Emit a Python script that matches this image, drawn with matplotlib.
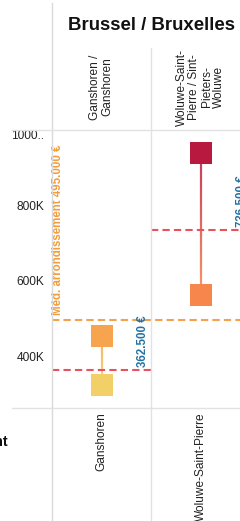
import numpy as np
import matplotlib
matplotlib.use('Agg')
import matplotlib.pyplot as plt
from matplotlib.lines import Line2D
from matplotlib.collections import LineCollection
from matplotlib.colors import to_rgba

plt.rcParams['font.family'] = ['Liberation Sans', 'DejaVu Sans']

# data
region = 'Brussel / Bruxelles'
communes = ['Ganshoren', 'Woluwe-Saint-Pierre']
commune_headers = ['Ganshoren /\nGanshoren', 'Woluwe-Saint-\nPierre / Sint-\nPieters-\nWoluwe']
price_high = [453000, 939000]
price_low = [324000, 563000]
median_commune = [362500, 736500]
median_region = 495000
color_high = ['#F6A54E', '#B8193F']
color_low = ['#F3CF67', '#F6864B']
ytick_vals = [400000, 600000, 800000, 1000000]
ytick_labels = ['400K', '600K', '800K', '1000..']

W, H = 240, 521
GRID = '#E2E2E2'


def fx(px):
    return px / W


def fy(py):
    return 1 - py / H


fig = plt.figure(figsize=(W / 100, H / 100), dpi=100)
ax = fig.add_axes([fx(52), fy(408), fx(250) - fx(52), fy(130) - fy(408)])
ax.set_xlim(-0.5, len(communes) - 0.5)
ax.set_ylim(262000, 1001000)
for s in ax.spines.values():
    s.set_visible(False)
ax.set_xticks([])
ax.set_yticks(ytick_vals)
ax.set_yticklabels(ytick_labels, fontsize=8.6, color='#222222')
ax.tick_params(axis='y', length=0, pad=5.5)
ax.get_yticklabels()[-1].set_va('top')

# frame lines
def fline(x0, y0, x1, y1, color=GRID, lw=1.0):
    fig.add_artist(Line2D([fx(x0), fx(x1)], [fy(y0), fy(y1)], color=color, lw=lw,
                          transform=fig.transFigure))

fline(52, 3, 52, 521, color='#DADADA')
fline(151, 48, 151, 521)
fline(12, 130, 240, 130)
fline(12, 408, 240, 408)

# region median
ax.axhline(median_region, color='#F4A24E', lw=1.5, ls=(0, (3.5, 2)), zorder=3)
ax.annotate(f'Méd. arrondissement {median_region:,.0f} €'.replace(',', '.'),
            xy=(-0.44, median_region), xytext=(0, 3.5), textcoords='offset points',
            rotation=90, ha='center', va='bottom', fontsize=8.3, fontweight='bold',
            color='#F39C3A')

for i, name in enumerate(communes):
    hi, lo = price_high[i], price_low[i]
    # gradient connector
    ys = np.linspace(lo, hi, 30)
    segs = [[(i, ys[k]), (i, ys[k + 1])] for k in range(len(ys) - 1)]
    c0 = np.array(to_rgba(color_low[i]))
    c1 = np.array(to_rgba(color_high[i]))
    t = np.linspace(0, 1, len(segs))[:, None]
    cols = c0 * (1 - t) + c1 * t
    cols[:, 3] = 0.85
    ax.add_collection(LineCollection(segs, colors=cols, linewidths=1.6, zorder=2))
    ax.scatter([i], [hi], marker='s', s=16.5 ** 2, color=color_high[i], zorder=4, linewidths=0)
    ax.scatter([i], [lo], marker='s', s=16.5 ** 2, color=color_low[i], zorder=4, linewidths=0)

    # commune median
    ax.hlines(median_commune[i], i - 0.5, i + 0.5, color='#E8525C', lw=1.5,
              linestyles=[(0, (3.5, 2))], zorder=3)
    ax.annotate(f'{median_commune[i]:,.0f} €'.replace(',', '.'),
                xy=(i + 0.42, median_commune[i]), xytext=(0, 2), textcoords='offset points',
                rotation=90, ha='center', va='bottom', fontsize=8.3, fontweight='bold',
                color='#2272A2', annotation_clip=False)

    xc = 52 + 99 * (i + 0.5)
    fig.text(fx(xc), fy(87), commune_headers[i], rotation=90, ha='center', va='center',
             multialignment='center', linespacing=1.05, fontsize=8.6, color='#222222')
    fig.text(fx(xc), fy(412), name, rotation=90, ha='center', va='top',
             fontsize=8.6, color='#222222')

fig.text(fx(151), fy(25), region, ha='center', va='center', fontsize=13.4,
         fontweight='bold', color='#111111')
fig.text(fx(8.5), fy(442), 'Arrondissement', ha='right', va='center', fontsize=10.5,
         fontweight='bold', color='#111111')

fig.savefig('out.png', dpi=100)
